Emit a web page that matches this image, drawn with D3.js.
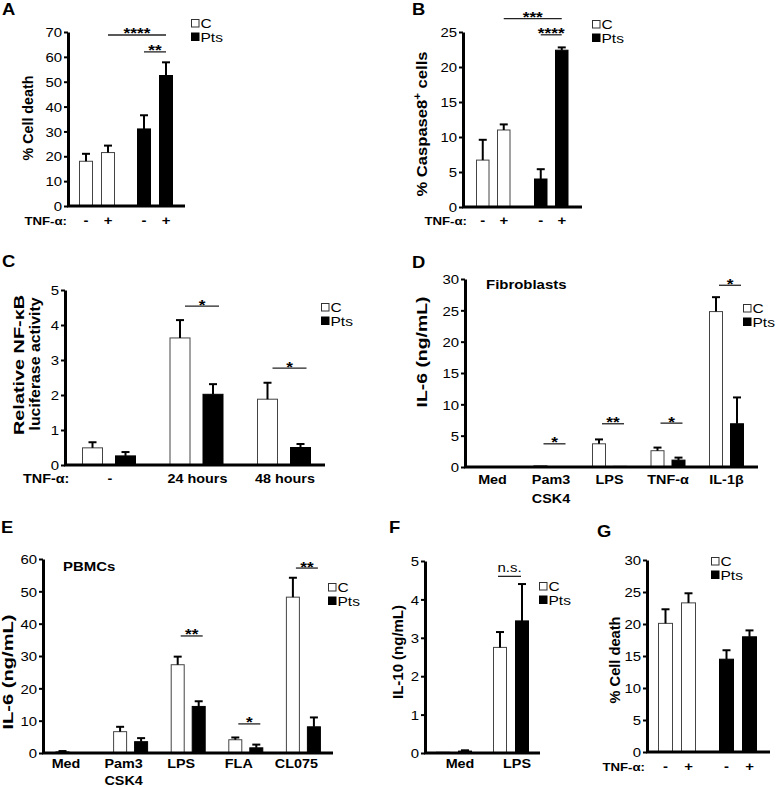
<!DOCTYPE html>
<html><head><meta charset="utf-8">
<script src="https://cdn.jsdelivr.net/npm/d3@7"></script>
<style>
body{margin:0;background:#fff}
svg{display:block}
text{font-family:"Liberation Sans",Arial,Helvetica,sans-serif;fill:#000}
</style>
</head><body>
<svg id="fig" width="779" height="787"></svg>
<script>
// ---------------- DATA ----------------
const seriesNames = ["C", "Pts"];
const tnfLevels = ["-", "+"];

// A: % cell death (fibroblasts, TNF-α)
const A_C = [18.0, 21.5], A_C_err = [3.0, 2.8];
const A_Pts = [31.0, 52.5], A_Pts_err = [5.5, 5.3];
const A_ticks = [0, 10, 20, 30, 40, 50, 60, 70];
const A_sig = [
  {from: ["C", "+"], to: ["Pts", "+"], y: 68.8, label: "****"},
  {from: ["Pts", "-"], to: ["Pts", "+"], y: 62, label: "**"}
];

// B: % Caspase8+ cells
const B_C = [6.7, 11.0], B_C_err = [2.9, 0.8];
const B_Pts = [4.0, 22.4], B_Pts_err = [1.4, 0.4];
const B_ticks = [0, 5, 10, 15, 20, 25];
const B_sig = [
  {from: ["C", "+"], to: ["Pts", "+"], y: 26.9, label: "***"},
  {from: ["Pts", "-"], to: ["Pts", "+"], y: 24.6, label: "****"}
];

// C: relative NF-κB luciferase activity
const C_cats = ["-", "24 hours", "48 hours"];
const C_C = [0.49, 3.63, 1.88], C_C_err = [0.16, 0.51, 0.47];
const C_Pts = [0.26, 2.02, 0.50], C_Pts_err = [0.11, 0.29, 0.10];
const C_ticks = [0, 1, 2, 3, 4, 5];
const C_sig = [{cat: "24 hours", y: 4.54, label: "*"}, {cat: "48 hours", y: 2.77, label: "*"}];

// D: IL-6 fibroblasts
const D_cats = ["Med", "Pam3\nCSK4", "LPS", "TNF-α", "IL-1β"];
const D_C = [0.05, 0.2, 3.7, 2.6, 24.8], D_C_err = [0, 0, 0.7, 0.5, 2.3];
const D_Pts = [0.0, 0.05, 0.1, 1.1, 6.9], D_Pts_err = [0, 0, 0, 0.4, 4.2];
const D_ticks = [0, 5, 10, 15, 20, 25, 30];
const D_sig = [
  {cat: "Pam3\nCSK4", y: 3.7, label: "*"}, {cat: "LPS", y: 6.9, label: "**"},
  {cat: "TNF-α", y: 7.0, label: "*"}, {cat: "IL-1β", y: 29.0, label: "*"}
];

// E: IL-6 PBMCs
const E_cats = ["Med", "Pam3\nCSK4", "LPS", "FLA", "CL075"];
const E_C = [0.4, 6.6, 27.3, 4.1, 48.2], E_C_err = [0.2, 1.5, 2.5, 0.7, 6.0];
const E_Pts = [0.1, 3.5, 14.4, 1.6, 8.1], E_Pts_err = [0, 1.1, 1.6, 1.0, 2.9];
const E_ticks = [0, 10, 20, 30, 40, 50, 60];
const E_sig = [{cat: "LPS", y: 36.2, label: "**"}, {cat: "FLA", y: 9.0, label: "*"}, {cat: "CL075", y: 57.2, label: "**"}];

// F: IL-10
const F_cats = ["Med", "LPS"];
const F_C = [0.02, 2.75], F_C_err = [0, 0.4];
const F_Pts = [0.05, 3.44], F_Pts_err = [0.02, 0.96];
const F_ticks = [0, 1, 2, 3, 4, 5];
const F_sig = [{cat: "LPS", y: 4.6, label: "n.s."}];

// G: % cell death
const G_C = [20.1, 23.3], G_C_err = [2.2, 1.5];
const G_Pts = [14.5, 18.0], G_Pts_err = [1.4, 1.0];
const G_ticks = [0, 5, 10, 15, 20, 25, 30];

// ---------------- DRAWING ----------------
const SX = 1.15;
const svg = d3.select("#fig");

function T(g, x, y, s, o = {}) {
  const t = g.append("text")
    .attr("transform", `translate(${x},${y}) scale(${SX},1)` + (o.rot ? " rotate(-90)" : ""))
    .attr("text-anchor", o.anchor || "start")
    .attr("font-size", o.size || 13)
    .attr("font-weight", o.bold ? "bold" : "normal");
  if (o.html) t.html(s); else t.text(s);
  if (o.len) t.attr("textLength", o.len).attr("lengthAdjust", "spacingAndGlyphs");
  return t;
}

function makeRows(outer, inner, bySeriesOuter, C, Ce, P, Pe) {
  const out = [];
  outer.forEach((o, oi) => inner.forEach((inn, ii) => {
    const series = bySeriesOuter ? o : inn;
    const idx = bySeriesOuter ? ii : oi;
    out.push({o, i: inn, series,
      v: series === "C" ? C[idx] : P[idx],
      e: series === "C" ? Ce[idx] : Pe[idx]});
  }));
  return out;
}

function panel(p) {
  const g = svg.append("g");
  const y = d3.scaleLinear().domain([0, p.yMax]).range([p.yb, p.yt]);
  const n = p.outer.length;
  const B = p.s + p.w;
  const xo = d3.scaleBand().domain(p.outer)
    .range([p.L, p.L + p.g * (n - 1) + B]).paddingInner(1 - B / p.g).paddingOuter(0);
  const xi = d3.scaleBand().domain(p.inner).range([0, B]).paddingInner(1 - p.w / p.s).paddingOuter(0);
  const cx = (o, i) => xo(o) + xi(i) + xi.bandwidth() / 2;

  // bars
  g.selectAll("rect.bar").data(p.rows).join("rect").attr("class", "bar")
    .attr("x", d => xo(d.o) + xi(d.i) + 0.5).attr("width", xi.bandwidth() - 1)
    .attr("y", d => y(d.v)).attr("height", d => Math.max(0, y(0) - y(d.v)))
    .attr("fill", d => d.series === "C" ? "#fff" : "#000")
    .attr("stroke", d => d.series === "C" ? "#444" : "#000").attr("stroke-width", 1);

  // error bars
  const eb = p.rows.filter(d => d.e > 0);
  g.selectAll("line.ev").data(eb).join("line").attr("class", "ev")
    .attr("x1", d => cx(d.o, d.i)).attr("x2", d => cx(d.o, d.i))
    .attr("y1", d => y(d.v)).attr("y2", d => y(d.v + d.e))
    .attr("stroke", "#000").attr("stroke-width", 2);
  g.selectAll("line.ec").data(eb).join("line").attr("class", "ec")
    .attr("x1", d => cx(d.o, d.i) - 4).attr("x2", d => cx(d.o, d.i) + 4)
    .attr("y1", d => y(d.v + d.e)).attr("y2", d => y(d.v + d.e))
    .attr("stroke", "#000").attr("stroke-width", 2);

  // y axis
  const ax = g.append("g").attr("transform", `translate(${p.axisX},0)`)
    .call(d3.axisLeft(y).tickValues(p.ticks).tickFormat(d3.format("~g"))
      .tickSize(4).tickPadding(2).tickSizeOuter(0));
  ax.select(".domain").attr("stroke-width", 3).attr("stroke", "#000");
  ax.selectAll(".tick line").attr("stroke-width", 2).attr("stroke", "#000");
  ax.selectAll(".tick text").attr("x", 0).attr("dy", "0.36em")
    .attr("transform", `translate(-6,0) scale(${SX},1)`)
    .attr("font-size", 13).attr("font-family", "Liberation Sans, Arial, sans-serif").attr("fill", "#000");
  // x axis line
  g.append("line").attr("x1", p.axisX - 1).attr("x2", p.axisEnd)
    .attr("y1", y(0)).attr("y2", y(0)).attr("stroke", "#000").attr("stroke-width", 3);

  // significance
  (p.sig || []).forEach(s => {
    let x1, x2;
    if (s.cat !== undefined) { x1 = cx(s.cat, "C") + (p.sigDx || 0); x2 = cx(s.cat, "Pts") + (p.sigDx || 0) + 1; }
    else { x1 = cx(s.from[0], s.from[1]); x2 = cx(s.to[0], s.to[1]); }
    const ly = y(s.y);
    g.append("line").attr("x1", x1).attr("x2", x2).attr("y1", ly).attr("y2", ly)
      .attr("stroke", "#222").attr("stroke-width", 1.3);
    if (s.label === "n.s.") T(g, (x1 + x2) / 2, ly - 4, s.label, {anchor: "middle", size: 13});
    else T(g, (x1 + x2) / 2, ly + 3.5, s.label, {anchor: "middle", size: 15, bold: true});
  });

  // legend
  const lg = p.legend;
  seriesNames.forEach((s, k) => {
    const by = lg[1] + k * 13.5;
    g.append("rect").attr("x", lg[0] + 0.5).attr("y", by + 0.5).attr("width", 7.5).attr("height", 7.5)
      .attr("fill", s === "C" ? "#fff" : "#000").attr("stroke", s === "C" ? "#333" : "#000").attr("stroke-width", 1);
    T(g, lg[0] + 9.5, by + 9, s, {size: 13.5});
  });

  // x labels
  if (p.bySeriesOuter) {
    p.rows.forEach(d => T(g, cx(d.o, d.i), p.labY, d.i, {anchor: "middle", size: 13, bold: true}));
    T(g, p.tnfX, p.labY, "TNF-α:", {anchor: p.tnfAnchor || "end", size: 11.5, bold: true});
  } else {
    p.outer.forEach(o => {
      o.split("\n").forEach((line, li) =>
        T(g, xo(o) + B / 2 + (p.labDx || 0), p.labY + li * p.labLH, line, {anchor: "middle", size: 12.5, bold: true}));
    });
    if (p.tnfX !== undefined) T(g, p.tnfX, p.labY, "TNF-α:", {anchor: "start", size: 12.5, bold: true});
  }

  // y title
  p.ytitle.forEach(t => T(g, t.x, t.y, t.s, {rot: true, anchor: "middle", size: t.size || 13, bold: true, len: t.len, html: t.html}));

  // panel letter
  T(g, p.letter[1], p.letter[2], p.letter[0], {size: 16, bold: true});
  return g;
}

// A
panel({
  outer: seriesNames, inner: tnfLevels, bySeriesOuter: true,
  rows: makeRows(seriesNames, tnfLevels, true, A_C, A_C_err, A_Pts, A_Pts_err),
  axisX: 68, axisEnd: 185, yb: 206, yt: 32, yMax: 70, ticks: A_ticks,
  L: 79, w: 14, s: 22, g: 58, sig: A_sig, legend: [191, 19],
  labY: 224.5, tnfX: 67,
  ytitle: [{x: 33, y: 118, s: "% Cell death", len: 85}],
  letter: ["A", 2, 15]
});
// B
panel({
  outer: seriesNames, inner: tnfLevels, bySeriesOuter: true,
  rows: makeRows(seriesNames, tnfLevels, true, B_C, B_C_err, B_Pts, B_Pts_err),
  axisX: 463, axisEnd: 582, yb: 207, yt: 32, yMax: 25, ticks: B_ticks,
  L: 476, w: 13.5, s: 21, g: 58, sig: B_sig, legend: [592, 20],
  labY: 225, tnfX: 467,
  ytitle: [{x: 427, y: 124, html: true, len: 145,
            s: '% Caspase8<tspan font-size="9" dy="-5">+</tspan><tspan dy="5"> cells</tspan>'}],
  letter: ["B", 412, 15]
});
// C
panel({
  outer: C_cats, inner: seriesNames, bySeriesOuter: false,
  rows: makeRows(C_cats, seriesNames, false, C_C, C_C_err, C_Pts, C_Pts_err),
  axisX: 65, axisEnd: 325, yb: 465, yt: 290, yMax: 5, ticks: C_ticks,
  L: 82, w: 21, s: 33, g: 87.5, sig: C_sig, sigDx: 5, legend: [321, 303],
  labY: 483, labLH: 18, labDx: 1, tnfX: 23,
  ytitle: [{x: 24, y: 365, s: "Relative NF-κB", len: 140, size: 12.5},
           {x: 40, y: 364, s: "luciferase activity", len: 133, size: 12.5}],
  letter: ["C", 2, 267]
});
// D
const gD = panel({
  outer: D_cats, inner: seriesNames, bySeriesOuter: false,
  rows: makeRows(D_cats, seriesNames, false, D_C, D_C_err, D_Pts, D_Pts_err),
  axisX: 465, axisEnd: 758, yb: 467, yt: 279, yMax: 30, ticks: D_ticks,
  L: 475, w: 14, s: 21, g: 58.5, sig: D_sig, sigDx: 3, legend: [743, 304],
  labY: 484, labLH: 19, labDx: 0,
  ytitle: [{x: 427, y: 352, s: "IL-6 (ng/mL)", len: 111}],
  letter: ["D", 412, 268]
});
T(gD, 486, 289, "Fibroblasts", {size: 13, bold: true});
// E
const gE = panel({
  outer: E_cats, inner: seriesNames, bySeriesOuter: false,
  rows: makeRows(E_cats, seriesNames, false, E_C, E_C_err, E_Pts, E_Pts_err),
  axisX: 43, axisEnd: 333, yb: 753, yt: 559, yMax: 60, ticks: E_ticks,
  L: 55.5, w: 14, s: 21, g: 57.6, sig: E_sig, sigDx: 3, legend: [328, 583],
  labY: 768, labLH: 17, labDx: -7,
  ytitle: [{x: 13, y: 672, s: "IL-6 (ng/mL)", len: 115}],
  letter: ["E", 1, 533]
});
T(gE, 63, 571, "PBMCs", {size: 13, bold: true});
// F
panel({
  outer: F_cats, inner: seriesNames, bySeriesOuter: false,
  rows: makeRows(F_cats, seriesNames, false, F_C, F_C_err, F_Pts, F_Pts_err),
  axisX: 425, axisEnd: 540, yb: 753, yt: 561, yMax: 5, ticks: F_ticks,
  L: 436, w: 14, s: 22, g: 57, sig: F_sig, sigDx: -2, legend: [539, 582],
  labY: 768, labLH: 18, labDx: 6,
  ytitle: [{x: 403, y: 652, s: "IL-10 (ng/mL)", len: 94}],
  letter: ["F", 389, 533]
});
// G
panel({
  outer: seriesNames, inner: tnfLevels, bySeriesOuter: true,
  rows: makeRows(seriesNames, tnfLevels, true, G_C, G_C_err, G_Pts, G_Pts_err),
  axisX: 647, axisEnd: 770, yb: 752, yt: 560, yMax: 30, ticks: G_ticks,
  L: 658, w: 15, s: 23, g: 61, legend: [711, 557],
  labY: 770.5, tnfX: 645,
  ytitle: [{x: 620, y: 660, s: "% Cell death", len: 87}],
  letter: ["G", 597, 537]
});
</script>
</body></html>
